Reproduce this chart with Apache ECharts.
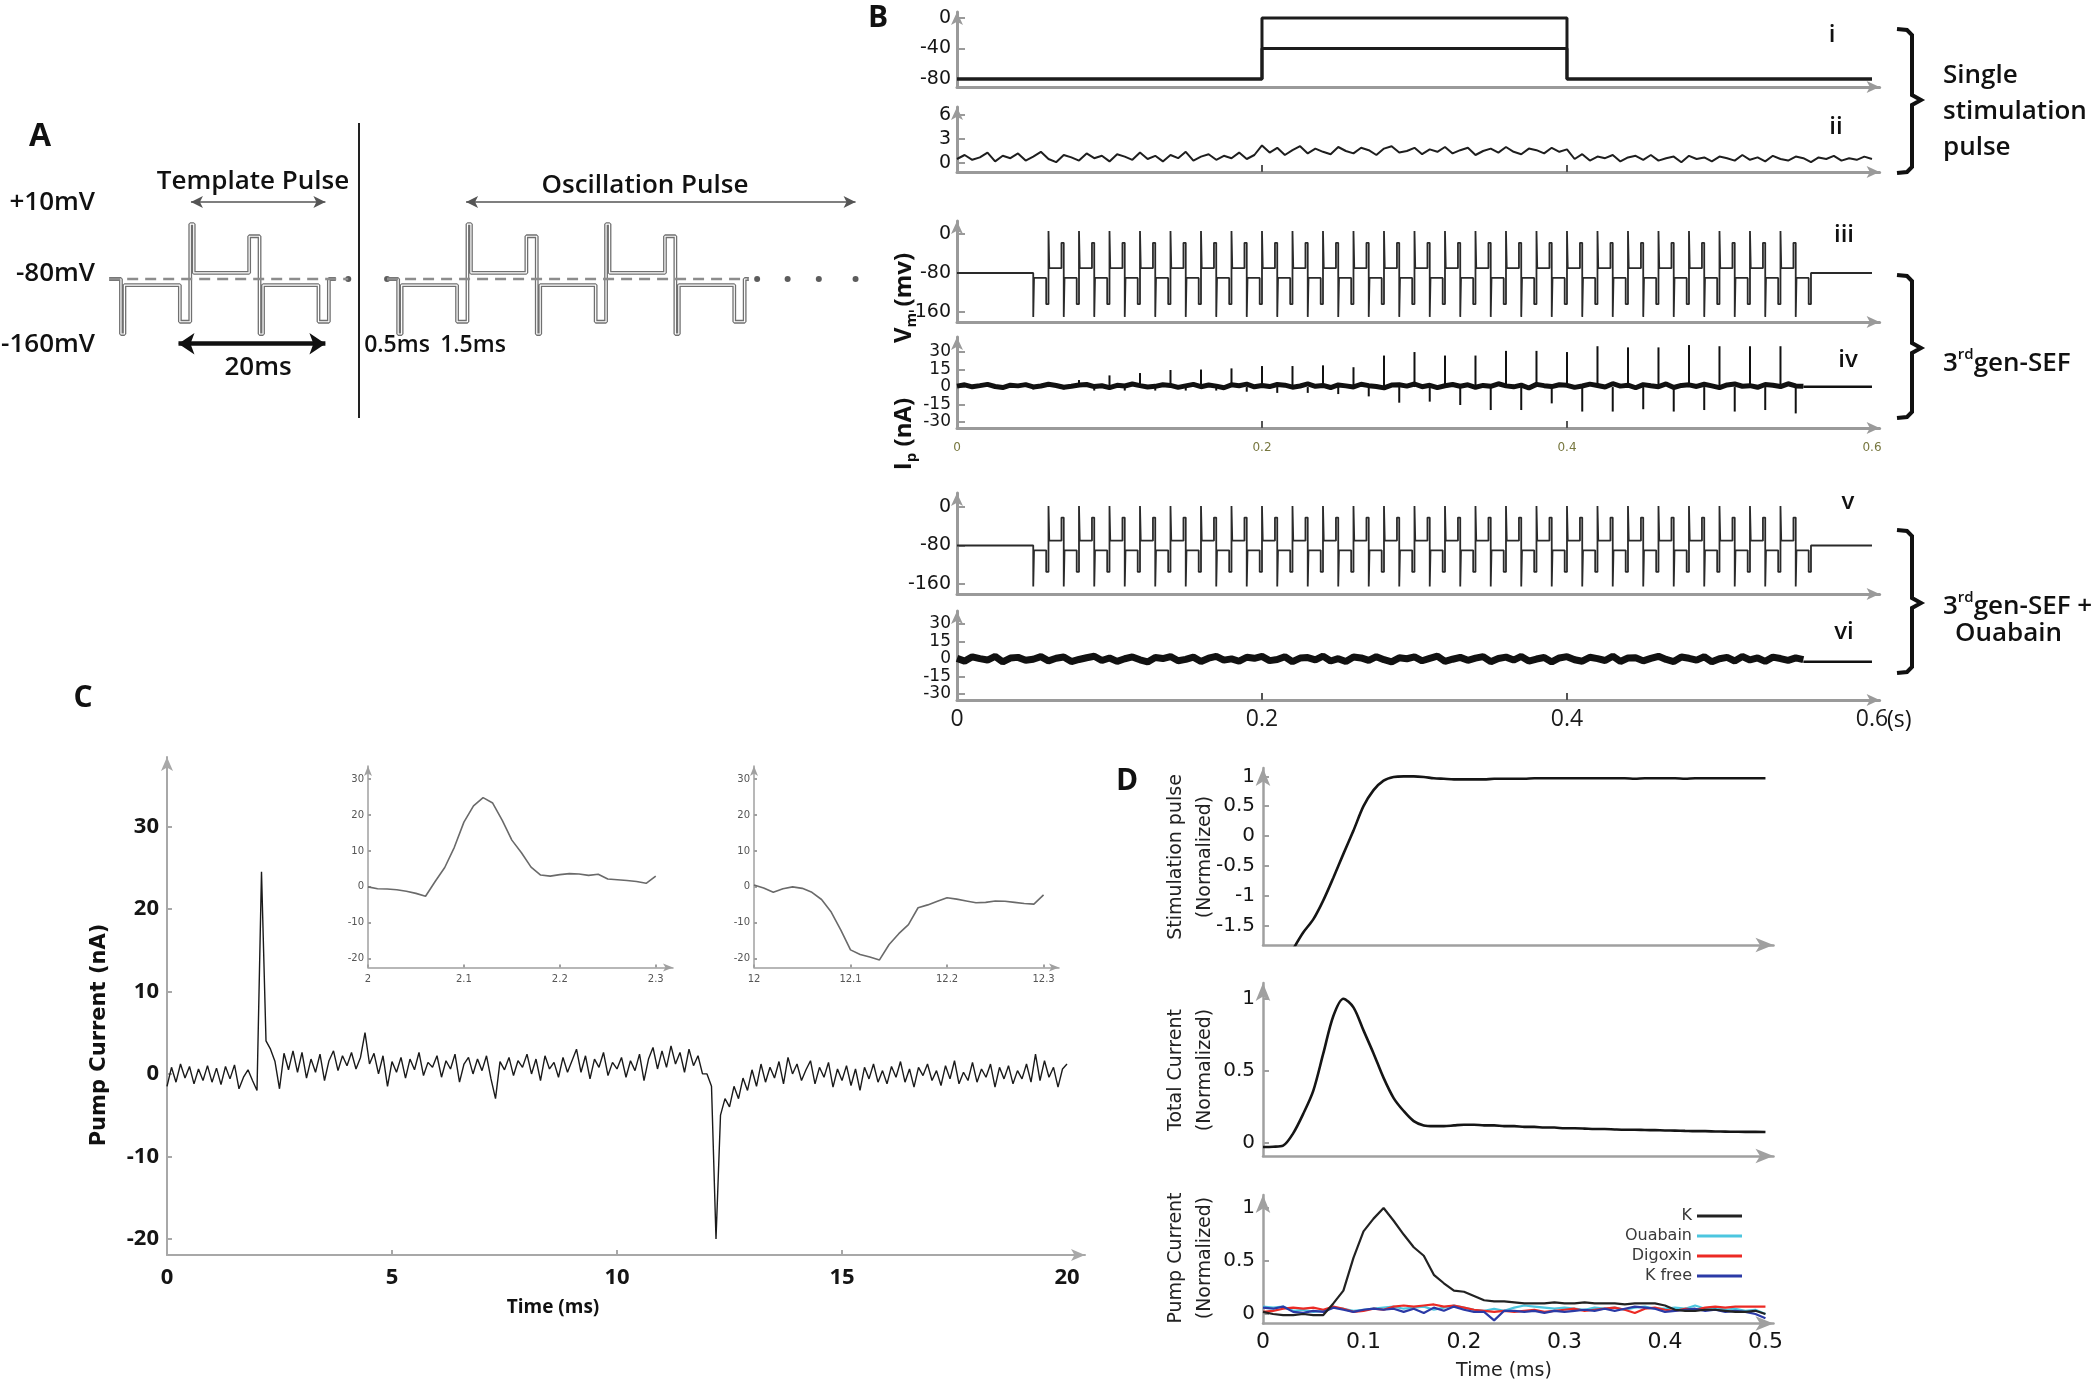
<!DOCTYPE html>
<html><head><meta charset="utf-8">
<script src="https://cdn.jsdelivr.net/npm/echarts@6/dist/echarts.min.js"></script>
<style>html,body{margin:0;padding:0;background:#fff}#c{width:2100px;height:1386px}</style>
</head><body><div id="c"></div>
<script>
// ================= DATA =================
// ---- Panel A : stimulation protocol (ms, mV) ----
const aSegDur   = [0.5, 8, 1.5, 0.5, 8, 1.5];          // spike, plateau, pulse, spike, plateau, pulse
const aSegLevel = [-170, -90, -150, 10, -70, -10];
const aBase = -80;
const aTemplate = {start: 0, cycles: 1, from: -1.7, to: 31};
const aOscill   = {start: 40, cycles: 2, from: 38.4, to: 90.6};
const aDashLeft  = [-1.7, 32.8];
const aDashRight = [38.4, 90.6];
const aDots = [32.8, 38.4, 91.8, 96.2, 100.7, 106.0];
const aTemplateArrow = [10.1, 29.5];
const aOscArrow = [49.8, 106.0];
const aArrowLevel = 46;
const aPeriodArrow = [8.3, 29.5];
const aPeriodLevel = -186;

// ---- Panel B ----
const bXTicks = [0.2, 0.4];
const bXLabels = [0, 0.2, 0.4, 0.6];
const iSteps = [0, 0.2, 0.4, 0.6];
const iLevelsHigh = [-80, 0, -80];
const iLevelsMid  = [-80, -40, -80];
const iYTicks = [0, -40, -80];
const iiYTicks = [6, 3, 0];
const iiStep = 0.005;
const iiNoise = [
  0.5,1.0,0.4,0.7,1.3,0.2,0.9,0.6,1.2,0.3,
  0.8,1.4,0.5,0.1,1.0,0.7,0.3,1.2,0.6,0.9,
  0.2,1.1,0.8,0.4,1.3,0.5,0.9,0.2,1.0,0.6,
  1.4,0.3,0.8,1.1,0.4,0.9,0.6,1.3,0.5,1.0,
  2.2,
  1.3,1.9,1.0,1.6,2.1,1.2,1.8,1.4,1.1,2.0,
  1.5,1.2,1.9,1.6,1.0,1.8,2.1,1.3,1.5,1.9,
  1.1,1.7,1.4,2.0,1.2,1.6,1.9,1.0,1.5,1.8,
  1.3,2.0,1.4,1.1,1.8,1.6,1.2,1.9,1.4,1.7,
  0.5,1.1,0.3,0.8,0.6,1.0,0.2,0.7,0.9,0.4,
  1.0,0.3,0.6,0.8,0.1,0.9,0.5,0.7,0.2,0.8,
  0.6,0.3,1.0,0.4,0.7,0.2,0.9,0.5,0.3,0.8,
  0.6,0.1,0.7,0.5,0.9,0.3,0.6,0.4,0.8,0.5
];
const bSegDur = [0.0005, 0.008, 0.0015, 0.0005, 0.008, 0.0015];   // s
const iiiLevels = [-170, -90, -144, 6, -70, -18];
const vLevels   = [-165, -90, -135, 2, -70, -22];
const bBase = -80;
const bTrainStart = 0.05, bTrainCycles = 25;
const vmYTicks = [0, -80, -160];
const ipYTicks = [30, 15, 0, -15, -30];
const bNoiseStep = 0.005;
const ivNoise = [
  0.8,1.9,0.2,1.2,2.3,0.5,-0.4,1.6,1.0,2.1,
  0.1,0.9,2.4,1.3,-0.2,0.7,1.8,2.2,0.4,1.1,
  -0.5,1.5,0.9,2.6,1.2,0.0,0.6,2.0,1.4,-0.3,
  1.0,2.3,0.3,1.7,0.8,-0.6,1.9,1.1,2.5,0.2,
  1.3,0.4,2.2,1.6,-0.1,0.9,2.7,0.6,1.4,-0.4,
  1.8,1.0,0.1,2.4,1.2,0.5,-0.7,1.7,2.0,0.8,
  2.6,0.3,1.5,-0.5,1.1,2.2,0.7,1.9,-0.2,1.4,
  0.6,2.8,1.0,0.2,1.7,-0.8,2.3,1.2,0.4,2.0,
  1.5,-0.3,0.9,2.5,1.3,0.0,2.9,0.8,1.6,-0.6,
  2.1,1.1,0.3,2.7,-0.4,1.4,1.9,0.5,2.4,1.0,
  -0.5,1.8,2.6,0.7,1.2,-0.2,2.2,1.5,0.4,2.8,
  1.0,0.6
];
const ivTail = 0.3;
const ivUpTimes0 = 0.06, ivDownTimes0 = 0.05, ivSpikePeriod = 0.02;
const ivUpSpikes   = [3,6,10,12,14.6,15,16,18,18,18.6,17,27,30,27,27,31,31,30,35,34,34,36,35,35,35];
const ivDownSpikes = [-2,-2,-3,-3,-3,-3,-3,-4,-5,-5,-6,-8,-13.4,-12.5,-15.4,-19.7,-19.7,-14,-21,-21,-19,-21,-19.7,-21,-19.7,-22.6];
const viNoise = [
  0.5,-1.8,1.9,0.3,-0.9,2.2,-2.4,0.8,1.4,-1.1,
  -0.2,2.0,-1.6,0.6,1.7,-2.2,-0.4,1.1,2.4,-1.3,
  0.9,-2.0,0.2,1.8,-0.7,-2.5,1.3,0.4,2.1,-1.5,
  -0.3,1.6,-2.1,0.7,2.3,-1.0,0.1,-1.9,1.5,0.6,
  2.2,-1.4,-0.5,1.9,-2.3,0.8,1.2,-0.8,2.5,-1.7,
  0.3,-2.2,1.7,0.9,-1.2,2.0,-0.6,-2.4,1.0,0.2,
  1.8,-1.5,0.5,2.4,-2.0,-0.2,1.4,-1.1,0.7,2.1,
  -2.3,0.4,1.6,-0.9,2.2,-1.8,0.0,1.3,-2.5,0.9,
  2.0,-0.6,-1.9,1.5,0.3,-1.3,2.4,-2.1,0.8,1.1,
  -1.6,0.5,2.3,-0.4,-2.2,1.7,0.6,-1.0,1.9,-2.4,
  0.2,1.4,-1.7,2.1,-0.8,0.9,-2.0,1.6,0.4,-1.2,
  1.0,-0.5
];
const viTail = -2.3;
const bEnd = 0.6;

// ---- Panel C : pump current (ms, nA) ----
const cStep = 0.1;
const cNoiseRows = [
  [-1.5,0.8,-1.0,1.2,-0.5,0.9,-1.2,0.6,-0.8,1.0],
  [-1.0,0.7,-1.3,0.9,-0.6,1.1,-1.8,-0.4,0.5,-0.8],
  [-2.0,24.5,4.0,3.0,1.5,-1.8,2.5,0.5,2.8,0.2],
  [2.6,-0.5,1.8,0.2,2.4,-0.8,1.6,2.8,0.4,2.2],
  [1.0,2.6,0.6,2.0,5.0,1.2,2.5,0.0,2.2,-1.5],
  [1.5,0.2,2.0,-0.5,1.8,0.5,2.6,-0.2,1.4,0.8],
  [2.2,-0.4,1.6,0.6,2.4,-1.0,1.2,2.0,0.0,1.8],
  [0.4,2.2,-0.6,-3.0,1.5,0.5,2.0,-0.2,1.6,0.8],
  [2.4,0.0,1.8,-0.8,2.2,0.6,1.4,-0.4,2.0,0.2],
  [1.6,3.0,0.2,2.2,-0.6,1.8,0.8,2.6,-0.2,1.4],
  [0.6,2.0,-0.4,1.6,0.4,2.4,-0.8,1.8,3.2,0.6],
  [2.8,0.8,3.4,1.2,2.6,0.2,3.0,1.0,2.2,0.0],
  [0.0,-1.5,-20.0,-5.0,-3.0,-4.0,-1.5,-3.0,-0.5,-2.0],
  [0.5,-1.5,1.2,-1.0,0.8,-0.5,1.5,-1.2,2.0,0.0],
  [1.2,-0.8,0.5,1.6,-1.2,0.8,-0.4,1.4,-1.6,0.6],
  [-0.8,1.0,-1.4,0.6,-2.0,0.8,-0.6,1.2,-1.0,0.4],
  [-1.2,0.9,-0.4,1.5,-1.0,0.6,-1.6,0.8,-0.2,1.2],
  [-0.8,0.4,-1.4,1.0,-0.6,1.6,-1.2,0.2,-0.8,1.4],
  [-1.0,0.6,-0.4,1.2,-1.6,0.8,-0.6,1.0,-1.2,0.4],
  [-0.6,1.2,-1.0,2.4,-0.8,1.6,-0.4,0.8,-1.6,0.6],
  [1.2]
];
const cYTicks = [30, 20, 10, 0, -10, -20];
const cXTicks = [0, 5, 10, 15, 20];
const insetStep = 0.01;
const inset1Start = 2.0;
const inset1 = [0,-0.5,-0.6,-0.8,-1.2,-1.8,-2.6,1.5,5.4,11,18,22.5,24.8,23.3,18.5,13,9.5,5.5,3.3,3.0,3.4,3.7,3.6,3.2,3.5,2.2,2.0,1.8,1.5,1.0,3.0];
const inset2Start = 12.0;
const inset2 = [0.5,-0.3,-1.5,-0.5,0,-0.4,-1.5,-3.5,-7,-12,-17.5,-18.8,-19.5,-20.3,-16,-13,-10.5,-5.8,-5,-4,-3,-3.4,-3.9,-4.4,-4.3,-3.9,-4,-4.3,-4.6,-4.8,-2.2];
const insetYTicks = [30, 20, 10, 0, -10, -20];
const inset1XTicks = [2, 2.1, 2.2, 2.3];
const inset2XTicks = [12, 12.1, 12.2, 12.3];

// ---- Panel D (ms, normalized) ----
const dStep = 0.01;
const dStim = [
  null,null,null,-1.9,-1.62,-1.4,-1.08,-0.7,-0.3,0.09,
  0.5,0.77,0.93,0.99,1.0,1.0,0.99,0.97,0.96,0.95,
  0.95,0.95,0.95,0.96,0.96,0.96,0.96,0.97,0.97,0.97,
  0.97,0.97,0.97,0.97,0.97,0.97,0.97,0.96,0.97,0.97,
  0.97,0.97,0.96,0.97,0.97,0.97,0.97,0.97,0.97,0.97,0.97
];
const dTotal = [
  -0.03,-0.028,-0.02,0.065,0.2,0.36,0.62,0.88,1.0,0.94,
  0.78,0.62,0.45,0.31,0.22,0.15,0.12,0.115,0.115,0.12,
  0.125,0.125,0.12,0.12,0.115,0.115,0.11,0.11,0.105,0.105,
  0.1,0.1,0.098,0.095,0.095,0.092,0.09,0.09,0.088,0.087,
  0.085,0.084,0.082,0.08,0.08,0.078,0.077,0.076,0.075,0.075,0.074
];
const dK = [
  0.02,0.0,-0.01,-0.01,0.0,-0.01,-0.01,0.1,0.22,0.53,
  0.78,0.9,1.0,0.88,0.75,0.63,0.55,0.37,0.29,0.22,
  0.21,0.17,0.13,0.12,0.12,0.11,0.1,0.1,0.1,0.11,
  0.1,0.1,0.11,0.1,0.1,0.1,0.09,0.1,0.1,0.1,
  0.08,0.04,0.03,0.03,0.04,0.04,0.03,0.02,0.02,0.03,0.0
];
const dOuabain = [
  0.07,0.06,0.07,0.03,0.04,0.02,0.03,0.06,0.05,0.03,
  0.04,0.05,0.06,0.07,0.05,0.06,0.07,0.04,0.06,0.08,
  0.06,0.04,0.03,0.05,0.03,0.06,0.08,0.07,0.06,0.05,
  0.06,0.05,0.04,0.06,0.05,0.06,0.04,0.06,0.07,0.05,
  0.05,0.06,0.05,0.08,0.05,0.06,0.04,0.05,0.03,0.04,0.0
];
const dDigoxin = [
  0.02,0.03,0.05,0.06,0.05,0.06,0.04,0.07,0.05,0.02,
  0.03,0.05,0.04,0.07,0.08,0.07,0.08,0.09,0.07,0.08,
  0.06,0.04,0.03,0.02,0.03,0.02,0.03,0.04,0.02,0.03,
  0.04,0.05,0.03,0.04,0.05,0.06,0.04,0.01,0.05,0.06,
  0.04,0.03,0.05,0.04,0.06,0.07,0.06,0.07,0.07,0.07,0.07
];
const dKfree = [
  0.06,0.05,0.07,0.02,0.01,0.03,0.02,0.06,0.04,0.02,
  0.04,0.05,0.04,0.05,0.02,0.05,0.01,0.06,0.03,0.07,
  0.04,0.02,0.02,-0.06,0.03,0.03,0.02,0.03,0.01,0.03,
  0.02,0.03,0.04,0.03,0.05,0.03,0.05,0.07,0.06,0.05,
  0.02,0.03,0.04,0.05,0.03,0.04,0.02,0.03,0.02,0.0,-0.04
];
const dLegend = ['K', 'Ouabain', 'Digoxin', 'K free'];
const dColors = ['#222222', '#4cc6df', '#ec2a24', '#2b3aa6'];
const d1YTicks = [1, 0.5, 0, -0.5, -1, -1.5];
const d23YTicks = [1, 0.5, 0];
const dXTicks = [0, 0.1, 0.2, 0.3, 0.4, 0.5];

// ================= BUILD =================
function buildTrain(start, cycles, dur, lev, base, from, to) {
  const pts = [[from, base], [start, base]];
  let t = start;
  const seq = [];
  for (let c = 0; c < cycles; c++) for (let i = 0; i < 6; i++) seq.push(i);
  seq.push(0, 1, 2);
  for (const i of seq) { pts.push([t, lev[i]]); t += dur[i]; pts.push([t, lev[i]]); }
  pts.push([t, base], [to, base]);
  return pts;
}
function steps(times, levels) {
  const p = [];
  for (let k = 0; k < levels.length; k++) { p.push([times[k], levels[k]], [times[k + 1], levels[k]]); }
  return p;
}
const series1D = (arr, step, t0) => arr.map((v, i) => [+(t0 + i * step).toFixed(6), v]);

const aWave = buildTrain(aTemplate.start, aTemplate.cycles, aSegDur, aSegLevel, aBase, aTemplate.from, aTemplate.to)
  .concat([[null, null]])
  .concat(buildTrain(aOscill.start, aOscill.cycles, aSegDur, aSegLevel, aBase, aOscill.from, aOscill.to));
const iiiTrain = buildTrain(bTrainStart, bTrainCycles, bSegDur, iiiLevels, bBase, 0, bEnd);
const vTrain = buildTrain(bTrainStart, bTrainCycles, bSegDur, vLevels, bBase, 0, bEnd);
const ivLine = series1D(ivNoise, bNoiseStep, 0);
const viLine = series1D(viNoise, bNoiseStep, 0);
const ivEndT = (ivNoise.length - 1) * bNoiseStep;
const viEndT = (viNoise.length - 1) * bNoiseStep;
const ivSpikes = ivUpSpikes.map((h, k) => [+(ivUpTimes0 + k * ivSpikePeriod).toFixed(4), h])
  .concat(ivDownSpikes.map((h, k) => [+(ivDownTimes0 + k * ivSpikePeriod).toFixed(4), h]));
const cNoise = cNoiseRows.flat();

// ================= AXES =================
const FF = 'DejaVu Sans';
function ax(kind, gi, min, max, o) {
  o = o || {};
  const ticks = o.ticks || null;
  const labels = o.labels === undefined ? ticks : o.labels;
  return {
    type: 'value', gridIndex: gi, min: min, max: max, show: o.hide ? false : true,
    position: kind === 'x' ? 'bottom' : 'left',
    axisLine: {show: true, onZero: false, symbol: ['none', 'arrow'], symbolSize: o.arrow || [9, 13],
      lineStyle: {color: o.lc || '#9a9a9a', width: o.lw || 3}},
    axisTick: {show: !!ticks, inside: true, length: o.tl || 8, customValues: ticks || undefined,
      lineStyle: {color: o.tc || o.lc || '#9a9a9a', width: o.tw || 2}},
    axisLabel: {show: !!labels, customValues: labels || undefined, margin: o.lm || 6,
      hideOverlap: false, showMinLabel: true, showMaxLabel: true,
      fontSize: o.fs || 19, lineHeight: o.lh || undefined, color: o.col || '#151515', fontFamily: o.ff || FF, fontWeight: o.fw || 'normal',
      formatter: o.fmt || (v => String(v))},
    splitLine: {show: false}
  };
}
const grids = [
  {left: 107.1, top: 193.5, width: 762.3, height: 158.8},   // 0 A
  {left: 957, top: 12, width: 922.6, height: 75},           // 1 i
  {left: 957, top: 107, width: 922.6, height: 65},          // 2 ii
  {left: 957, top: 221, width: 922.6, height: 101},         // 3 iii
  {left: 957, top: 337, width: 922.6, height: 91},          // 4 iv
  {left: 957, top: 493, width: 922.6, height: 101},         // 5 v
  {left: 957, top: 611, width: 922.6, height: 89},          // 6 vi
  {left: 167, top: 757, width: 918, height: 498},           // 7 C
  {left: 368, top: 766, width: 305, height: 201.5},         // 8 C inset1
  {left: 754, top: 766, width: 305, height: 201.5},         // 9 C inset2
  {left: 1263, top: 768, width: 510.5, height: 177},        // 10 D1
  {left: 1263, top: 983, width: 510.5, height: 173},        // 11 D2
  {left: 1263, top: 1195, width: 510.5, height: 128.5}      // 12 D3
];
const insetX = {lc: '#a0a0a0', lw: 1.5, tl: 3, fs: 10, col: '#555', lm: 7, arrow: [6, 10]};
const insetY = {ticks: insetYTicks, lc: '#a0a0a0', lw: 1.5, tl: 3, fs: 10, col: '#555', lm: 4, arrow: [6, 10]};
const xAxes = [
  ax('x', 0, -2, 108, {hide: true}),
  ax('x', 1, 0, 0.605, {}),
  ax('x', 2, 0, 0.605, {ticks: bXTicks, labels: false, tc: '#555', tl: 7}),
  ax('x', 3, 0, 0.605, {}),
  ax('x', 4, 0, 0.605, {ticks: bXTicks, labels: bXLabels, tc: '#555', tl: 7, fs: 12, col: '#77773f', lm: 14}),
  ax('x', 5, 0, 0.605, {}),
  ax('x', 6, 0, 0.605, {ticks: bXTicks, labels: bXLabels, tc: '#555', tl: 7, fs: 23, ff: 'Open Sans', lm: 8, col: '#1a1a1a'}),
  ax('x', 7, 0, 20.4, {ticks: [5, 10, 15], labels: cXTicks, lc: '#a8a8a8', lw: 2, tl: 5, fs: 22, ff: 'Open Sans', fw: 'bold', lm: 12, arrow: [9, 14]}),
  ax('x', 8, 2.0, 2.318, Object.assign({ticks: inset1XTicks}, insetX)),
  ax('x', 9, 12.0, 12.316, Object.assign({ticks: inset2XTicks}, insetX)),
  ax('x', 10, 0, 0.508, {lc: '#a0a0a0', lw: 2.5, arrow: [11, 18]}),
  ax('x', 11, 0, 0.508, {lc: '#a0a0a0', lw: 2.5, arrow: [11, 18]}),
  ax('x', 12, 0, 0.508, {ticks: [], labels: dXTicks, lc: '#a0a0a0', lw: 2.5, arrow: [11, 18], fs: 22, lm: 8,
    fmt: v => v === 0 ? '0' : v.toFixed(1)})
];
const yAxes = [
  ax('y', 0, -200, 60, {hide: true}),
  ax('y', 1, -90.5, 7.9, {ticks: iYTicks}),
  ax('y', 2, -1.125, 7, {ticks: iiYTicks}),
  ax('y', 3, -180.5, 26.7, {ticks: vmYTicks}),
  ax('y', 4, -35.1, 42.9, {ticks: ipYTicks, fs: 17, lh: 17}),
  ax('y', 5, -180.8, 29.1, {ticks: vmYTicks}),
  ax('y', 6, -35.1, 41.1, {ticks: ipYTicks, fs: 17, lh: 17}),
  ax('y', 7, -21.94, 38.4, {ticks: cYTicks, lc: '#a8a8a8', lw: 2, tl: 5, fs: 22, ff: 'Open Sans', fw: 'bold', lm: 8, arrow: [9, 14]}),
  ax('y', 8, -22.4, 33.6, insetY),
  ax('y', 9, -22.4, 33.6, insetY),
  ax('y', 10, -1.829, 1.141, {ticks: d1YTicks, lc: '#a0a0a0', lw: 2.5, tl: 6, arrow: [11, 18], fs: 20, lm: 8}),
  ax('y', 11, -0.0924, 1.109, {ticks: d23YTicks, lc: '#a0a0a0', lw: 2.5, tl: 6, arrow: [11, 18], fs: 20, lm: 8}),
  ax('y', 12, -0.0896, 1.123, {ticks: d23YTicks, lc: '#a0a0a0', lw: 2.5, tl: 6, arrow: [11, 18], fs: 20, lm: 8})
];

// ================= SERIES =================
function line(gi, data, color, width, extra) {
  return Object.assign({type: 'line', xAxisIndex: gi, yAxisIndex: gi, data: data, showSymbol: false, symbol: 'none',
    silent: true, connectNulls: false, lineStyle: {color: color, width: width}, itemStyle: {color: color}}, extra || {});
}
const series = [
  // A
  line(0, aWave, '#707070', 3.8),
  line(0, aWave, '#ffffff', 1.2),
  line(0, aDashLeft.map(t => [t, aBase]), '#8c8c8c', 2.5, {lineStyle: {color: '#8c8c8c', width: 2.5, type: [11, 7]},
    markLine: {silent: true, symbol: ['arrow', 'arrow'], symbolSize: [9, 12], label: {show: false},
      lineStyle: {color: '#555', width: 1.6, type: 'solid'},
      data: [[{coord: [aTemplateArrow[0], aArrowLevel]}, {coord: [aTemplateArrow[1], aArrowLevel]}],
             [{coord: [aOscArrow[0], aArrowLevel]}, {coord: [aOscArrow[1], aArrowLevel]}]]}}),
  line(0, aDashRight.map(t => [t, aBase]), '#8c8c8c', 2.5, {lineStyle: {color: '#8c8c8c', width: 2.5, type: [11, 7]},
    markLine: {silent: true, symbol: ['arrow', 'arrow'], symbolSize: [16, 16], label: {show: false},
      lineStyle: {color: '#111', width: 4.5, type: 'solid'},
      data: [[{coord: [aPeriodArrow[0], aPeriodLevel]}, {coord: [aPeriodArrow[1], aPeriodLevel]}]]}}),
  {type: 'scatter', xAxisIndex: 0, yAxisIndex: 0, data: aDots.map(t => [t, aBase]), symbolSize: 6, itemStyle: {color: '#333'}, silent: true},
  // B i, ii
  line(1, steps(iSteps, iLevelsHigh), '#1c1c1c', 3),
  line(1, steps(iSteps, iLevelsMid), '#1c1c1c', 3),
  line(2, series1D(iiNoise, iiStep, 0), '#1e1e1e', 2),
  // B iii, iv
  line(3, iiiTrain, '#2a2a2a', 1.8),
  line(4, ivLine, '#111', 5),
  line(4, [[ivEndT, ivTail], [bEnd, ivTail]], '#111', 2.5),
  {type: 'bar', xAxisIndex: 4, yAxisIndex: 4, data: ivSpikes, barWidth: 2, itemStyle: {color: '#111'}, silent: true},
  // B v, vi
  line(5, vTrain, '#2a2a2a', 1.8),
  line(6, viLine, '#111', 7),
  line(6, [[viEndT, viTail], [bEnd, viTail]], '#111', 2.5),
  // C
  line(7, series1D(cNoise, cStep, 0), '#1a1a1a', 1.4),
  line(8, series1D(inset1, insetStep, inset1Start), '#6a6a6a', 1.6),
  line(9, series1D(inset2, insetStep, inset2Start), '#6a6a6a', 1.6),
  // D
  line(10, series1D(dStim, dStep, 0), '#151515', 2.6, {smooth: 0.3}),
  line(11, series1D(dTotal, dStep, 0), '#151515', 2.6, {smooth: 0.3}),
  line(12, series1D(dOuabain, dStep, 0), dColors[1], 2.2, {name: dLegend[1]}),
  line(12, series1D(dDigoxin, dStep, 0), dColors[2], 2.2, {name: dLegend[2]}),
  line(12, series1D(dKfree, dStep, 0), dColors[3], 2.2, {name: dLegend[3]}),
  line(12, series1D(dK, dStep, 0), dColors[0], 2.2, {name: dLegend[0]})
];

// ================= ANNOTATIONS =================
function T(x, y, text, size, o) {
  o = o || {};
  return {type: 'text', x: x, y: y, rotation: o.rot || 0, silent: true, z: 100,
    style: {text: text, fontSize: size, fontFamily: o.ff || 'Open Sans', fontWeight: o.fw || 600,
      fill: o.fill || '#111', align: o.align || 'center', verticalAlign: o.va || 'middle',
      lineHeight: o.lh, rich: o.rich}};
}
function bracket(top, bottom, tip) {
  return {type: 'polyline', silent: true, z: 100,
    shape: {points: [[1897, top], [1907, top + 1], [1912, top + 6], [1912, tip - 5], [1921, tip], [1912, tip + 5],
      [1912, bottom - 6], [1907, bottom - 1], [1897, bottom]]},
    style: {stroke: '#111', lineWidth: 4, fill: null}};
}
const supRich = {n: {fontSize: 26, fontFamily: 'Open Sans', fontWeight: 600, lineHeight: 30, verticalAlign: 'bottom'},
  s: {fontSize: 15, fontFamily: 'Open Sans', fontWeight: 600, lineHeight: 15, verticalAlign: 'top'}};
const subRich = {b: {fontSize: 24, fontFamily: 'Open Sans', fontWeight: 700, lineHeight: 27, verticalAlign: 'top'},
  s: {fontSize: 15, fontFamily: 'Open Sans', fontWeight: 700, lineHeight: 15, verticalAlign: 'bottom'}};
const graphics = [
  // A
  T(40, 137, 'A', 32, {fw: 'bold'}),
  T(253, 182, 'Template Pulse', 26),
  T(645, 186, 'Oscillation Pulse', 26),
  T(95, 203, '+10mV', 26, {align: 'right'}),
  T(95, 274, '-80mV', 26, {align: 'right'}),
  T(95, 345, '-160mV', 26, {align: 'right'}),
  T(258, 368, '20ms', 26),
  T(397, 345, '0.5ms', 23),
  T(473, 345, '1.5ms', 23),
  {type: 'line', silent: true, shape: {x1: 359, y1: 123, x2: 359, y2: 418}, style: {stroke: '#222', lineWidth: 2}},
  // B
  T(878, 18, 'B', 30, {fw: 'bold'}),
  T(1832, 35, 'i', 24), T(1836, 127, 'ii', 24), T(1844, 235, 'iii', 24),
  T(1848, 360, 'iv', 24), T(1848, 502, 'v', 24), T(1844, 632, 'vi', 24),
  bracket(29, 173, 100), bracket(275, 418, 348), bracket(530, 673, 603),
  T(1943, 76, 'Single', 26, {align: 'left'}),
  T(1943, 112, 'stimulation', 26, {align: 'left'}),
  T(1943, 148, 'pulse', 26, {align: 'left'}),
  T(1943, 362, '{n|3}{s|rd}{n|gen-SEF}', 26, {align: 'left', rich: supRich}),
  T(1943, 605, '{n|3}{s|rd}{n|gen-SEF +}', 26, {align: 'left', rich: supRich}),
  T(1955, 634, 'Ouabain', 26, {align: 'left'}),
  T(906, 298, '{b|V}{s|m}{b| (mv)}', 24, {rot: Math.PI / 2, fw: 700, rich: subRich}),
  T(906, 434, '{b|I}{s|p}{b| (nA)}', 24, {rot: Math.PI / 2, fw: 700, rich: subRich}),
  T(1887, 720, '(s)', 23, {align: 'left', fw: 'normal'}),
  // C
  T(83, 698, 'C', 30, {fw: 'bold'}),
  T(100, 1035, 'Pump Current (nA)', 21, {rot: Math.PI / 2, ff: 'DejaVu Sans', fw: 'bold'}),
  T(553, 1308, 'Time (ms)', 19, {fw: 'bold'}),
  // D
  T(1127, 781, 'D', 30, {fw: 'bold'}),
  T(1191, 857, 'Stimulation pulse\n(Normalized)', 19, {rot: Math.PI / 2, ff: 'DejaVu Sans', fw: 'normal', lh: 29, fill: '#222'}),
  T(1191, 1070, 'Total Current\n(Normalized)', 19, {rot: Math.PI / 2, ff: 'DejaVu Sans', fw: 'normal', lh: 29, fill: '#222'}),
  T(1191, 1258, 'Pump Current\n(Normalized)', 19, {rot: Math.PI / 2, ff: 'DejaVu Sans', fw: 'normal', lh: 29, fill: '#222'}),
  T(1504, 1371, 'Time (ms)', 19, {ff: 'DejaVu Sans', fw: 'normal', fill: '#222'})
];

const option = {
  animation: false,
  backgroundColor: '#ffffff',
  textStyle: {fontFamily: FF},
  grid: grids,
  xAxis: xAxes,
  yAxis: yAxes,
  series: series,
  legend: {data: dLegend, orient: 'vertical', right: 353, top: 1202, align: 'right', itemWidth: 45, itemHeight: 3,
    itemGap: 2, icon: 'rect', selectedMode: false,
    textStyle: {fontSize: 16, color: '#3a3a3a', fontFamily: FF, lineHeight: 18}},
  graphic: {elements: graphics}
};
const chart = echarts.init(document.getElementById('c'));
chart.setOption(option);
</script>
</body></html>
